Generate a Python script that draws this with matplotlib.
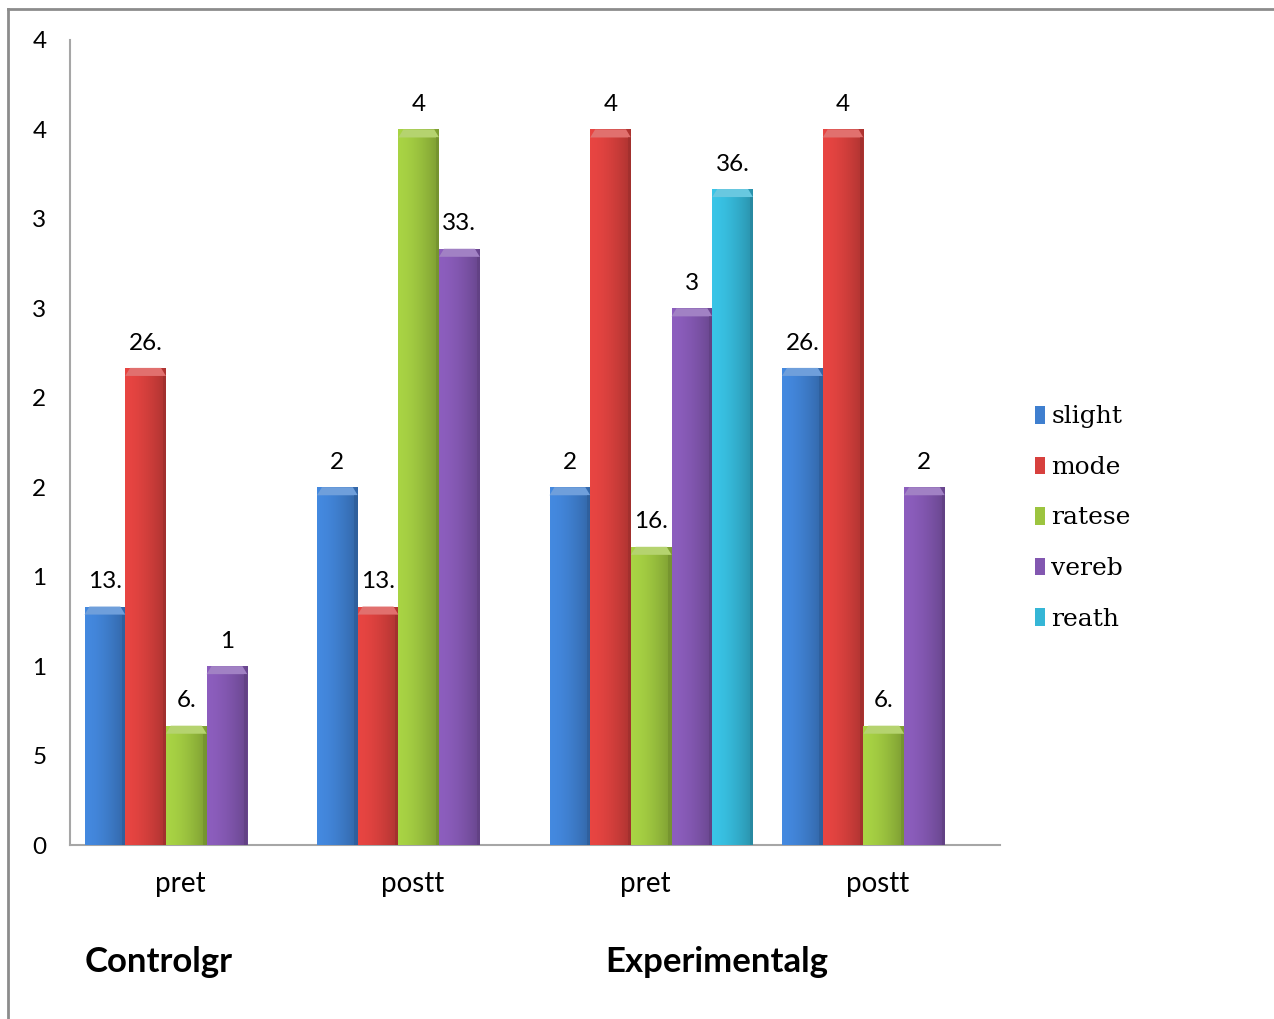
import numpy as np
import matplotlib
matplotlib.use("Agg")
import matplotlib.pyplot as plt
from matplotlib.colors import to_rgb
from matplotlib.patches import Polygon, Rectangle
from matplotlib.lines import Line2D
from matplotlib.transforms import ScaledTranslation

categories = ["pret", "postt", "pret", "postt"]
groups = ["Controlgr", "Experimentalg"]
series = ["slight", "mode", "ratese", "vereb", "reath"]
colors = ["#3f7fcf", "#d7403d", "#9cc43f", "#8257b0", "#35b6d6"]

slight = [13.33, 20, 20, 26.67]
mode = [26.67, 13.33, 40, 40]
ratese = [6.67, 40, 16.67, 6.67]
vereb = [10, 33.33, 30, 20]
reath = [np.nan, np.nan, 36.67, np.nan]

slight_lbl = ["13.", "2", "2", "26."]
mode_lbl = ["26.", "13.", "4", "4"]
ratese_lbl = ["6.", "4", "16.", "6."]
vereb_lbl = ["1", "33.", "3", "2"]
reath_lbl = ["", "", "36.", ""]

yticks = [0, 5, 10, 15, 20, 25, 30, 35, 40, 45]
ytick_lbl = ["0", "5", "1", "1", "2", "2", "3", "3", "4", "4"]

values = [slight, mode, ratese, vereb, reath]
labels = [slight_lbl, mode_lbl, ratese_lbl, vereb_lbl, reath_lbl]


def shade(c, f):
    r = np.array(to_rgb(c)) * f
    return np.clip(r, 0, 1)


def lighten(c, f):
    r = np.array(to_rgb(c))
    return r + (1 - r) * f


fig = plt.figure(figsize=(12.74, 10.19), dpi=100)
ax = fig.add_axes([70 / 1274, 1 - 845 / 1019, 930 / 1274, 805 / 1019])

width = 0.175
x = np.arange(len(categories))
ax.set_xlim(-0.5, len(categories) - 0.5)
ax.set_ylim(0, 45)

# horizontal gradient used to shade each bar
grad = np.linspace(0, 1, 64)
prof = 1.08 - 0.28 * grad ** 1.6

for i, (name, vals, lbls, col) in enumerate(zip(series, values, labels, colors)):
    xs = x - 2 * width + i * width
    bars = ax.bar(xs, vals, width, color=col, edgecolor="none", label=name, zorder=2)
    for b, v, t in zip(bars, vals, lbls):
        if np.isnan(v):
            continue
        x0, w = b.get_x(), b.get_width()
        img = np.array([[shade(col, p) for p in prof]])
        im = ax.imshow(img, extent=[x0, x0 + w, 0, v], aspect="auto",
                       interpolation="bilinear", zorder=3)
        im.set_clip_path(b)
        cap = 0.45
        inset = w * 0.12
        ax.add_patch(Polygon([[x0, v - cap], [x0 + inset, v], [x0 + w - inset, v],
                              [x0 + w, v - cap]], closed=True,
                             facecolor=lighten(col, 0.25), edgecolor="none", zorder=4))
        ax.add_patch(Rectangle((x0 + w - w * 0.08, 0), w * 0.08, v - cap,
                               facecolor=shade(col, 0.72), edgecolor="none",
                               alpha=0.6, zorder=4))
        ax.text(x0 + w / 2, v + 0.8, t, ha="center", va="bottom",
                fontsize=17.5, family="Lato", color="black", zorder=5)

# category names, nudged a little left of the slot centres
ax.set_xticks(x)
ax.set_xticklabels([])
shift = ScaledTranslation(-6 / 100, 0, fig.dpi_scale_trans)
for xi, name in zip(x, categories):
    ax.text(xi, 1 - 884 / 1019, name, transform=ax.get_xaxis_transform() + shift,
            ha="center", va="center", fontsize=20, family="Lato")
# axis coords: y in axes fraction computed from figure pixels
for t in ax.texts[-len(categories):]:
    t.set_position((t.get_position()[0], (1019 - 884 - (1019 - 845)) / 805))

ax.set_yticks(yticks)
ax.set_yticklabels(ytick_lbl, fontsize=17.5, family="Lato")
ax.tick_params(axis="both", length=0)
ax.tick_params(axis="y", pad=17)
for s in ["top", "right"]:
    ax.spines[s].set_visible(False)
for s in ["left", "bottom"]:
    ax.spines[s].set_color("#a6a6a6")
    ax.spines[s].set_linewidth(1.5)

fig.text(85 / 1274, 1 - 962 / 1019, groups[0], fontsize=25, fontweight="bold",
         family="Lato", va="center", ha="left")
fig.text(605 / 1274, 1 - 962 / 1019, groups[1], fontsize=25, fontweight="bold",
         family="Lato", va="center", ha="left")

handles = [Rectangle((0, 0), 1, 1, facecolor=c, edgecolor="none") for c in colors]
leg = fig.legend(handles, series, loc="center left",
                 bbox_to_anchor=(1035 / 1274, 1 - 518 / 1019), frameon=False,
                 prop={"family": "DejaVu Serif", "size": 18},
                 handlelength=0.4, handleheight=0.7, handletextpad=0.25,
                 labelspacing=1.1, borderpad=0, borderaxespad=0)

# outer frame of the chart area
fig.add_artist(Line2D([8 / 1274, 8 / 1274], [0, 1 - 9 / 1019], transform=fig.transFigure,
                      color="#8c8c8c", linewidth=2))
fig.add_artist(Line2D([8 / 1274, 1], [1 - 9 / 1019, 1 - 9 / 1019], transform=fig.transFigure,
                      color="#8c8c8c", linewidth=2))

fig.savefig("out.png", dpi=100)
